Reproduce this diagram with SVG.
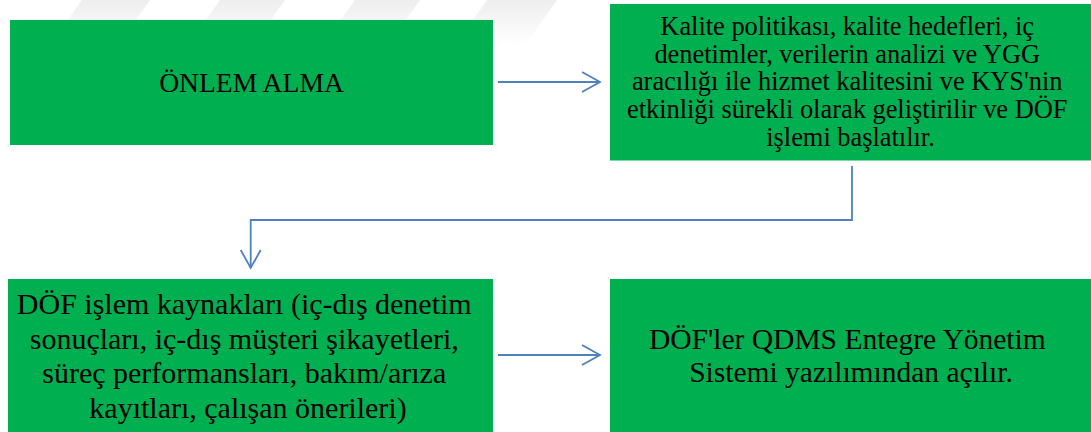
<svg xmlns="http://www.w3.org/2000/svg" width="1091" height="432" viewBox="0 0 1091 432">
  <style>
    .box { fill: #00B050; stroke: none; }
    .t { font-family: 'Liberation Serif', Tinos, 'Times New Roman', 'DejaVu Serif', serif; fill: #000000; text-anchor: middle; }
    .conn { fill: none; stroke: #4F81BD; stroke-width: 1.8; }
  </style>
  <defs>
    <marker id="open" markerUnits="userSpaceOnUse" markerWidth="22" markerHeight="24" viewBox="-2 -2 22 24" refX="18" refY="10" orient="auto">
      <path d="M0,0 L18,10 L0,20" fill="none" stroke="#4F81BD" stroke-width="1.8"/>
    </marker>
    <linearGradient id="wm" x1="0" y1="0" x2="0" y2="1">
      <stop offset="0" stop-color="#eeeeee"/>
      <stop offset="1" stop-color="#ffffff"/>
    </linearGradient>
  </defs>
  <rect x="0" y="0" width="1091" height="432" fill="#ffffff"/>
  <g id="watermark" fill="url(#wm)">
    <polygon points="82,0 150,0 118,45 50,45"/>
    <polygon points="220,0 285,0 253,45 188,45"/>
    <polygon points="355,0 420,0 388,45 323,45"/>
    <polygon points="487,0 557,0 525,45 455,45"/>
  </g>
  <g id="connectors">
    <line class="conn" x1="498" y1="82" x2="600" y2="82" marker-end="url(#open)"/>
    <polyline class="conn" points="852,166 852,220 250.7,220 250.7,268" marker-end="url(#open)"/>
    <line class="conn" x1="498" y1="355" x2="600" y2="355" marker-end="url(#open)"/>
  </g>
  <g id="node-onlem">
    <rect class="box" x="10" y="20" width="483" height="125"/>
    <text class="t" font-family="Liberation Serif, Tinos, DejaVu Serif, serif" x="251.5" y="91.5" font-size="27.6">ÖNLEM ALMA</text>
  </g>
  <g id="node-kalite">
    <rect class="box" x="610" y="4" width="481" height="156.5"/>
    <text class="t" font-family="Liberation Serif, Tinos, DejaVu Serif, serif" font-size="26.4">
      <tspan x="850.5" y="35">Kalite politikası, kalite hedefleri, iç</tspan>
      <tspan x="850.5" y="62.7">denetimler, verilerin analizi ve YGG</tspan>
      <tspan x="850.5" y="90.4">aracılığı ile hizmet kalitesini ve KYS'nin</tspan>
      <tspan x="850.5" y="118.1">etkinliği sürekli olarak geliştirilir ve DÖF</tspan>
      <tspan x="850.5" y="145.8">işlemi başlatılır.</tspan>
    </text>
  </g>
  <g id="node-kaynaklar">
    <rect class="box" x="8" y="279" width="485" height="153"/>
    <text class="t" font-family="Liberation Serif, Tinos, DejaVu Serif, serif" font-size="30">
      <tspan x="248" y="314">DÖF işlem kaynakları (iç-dış denetim</tspan>
      <tspan x="248" y="348.5">sonuçları, iç-dış müşteri şikayetleri,</tspan>
      <tspan x="248" y="383">süreç performansları, bakım/arıza</tspan>
      <tspan x="248" y="417.5">kayıtları, çalışan önerileri)</tspan>
    </text>
  </g>
  <g id="node-qdms">
    <rect class="box" x="610" y="279" width="481" height="153"/>
    <text class="t" font-family="Liberation Serif, Tinos, DejaVu Serif, serif" font-size="29.5">
      <tspan x="851" y="348.5">DÖF'ler QDMS Entegre Yönetim</tspan>
      <tspan x="851" y="382">Sistemi yazılımından açılır.</tspan>
    </text>
  </g>
</svg>
